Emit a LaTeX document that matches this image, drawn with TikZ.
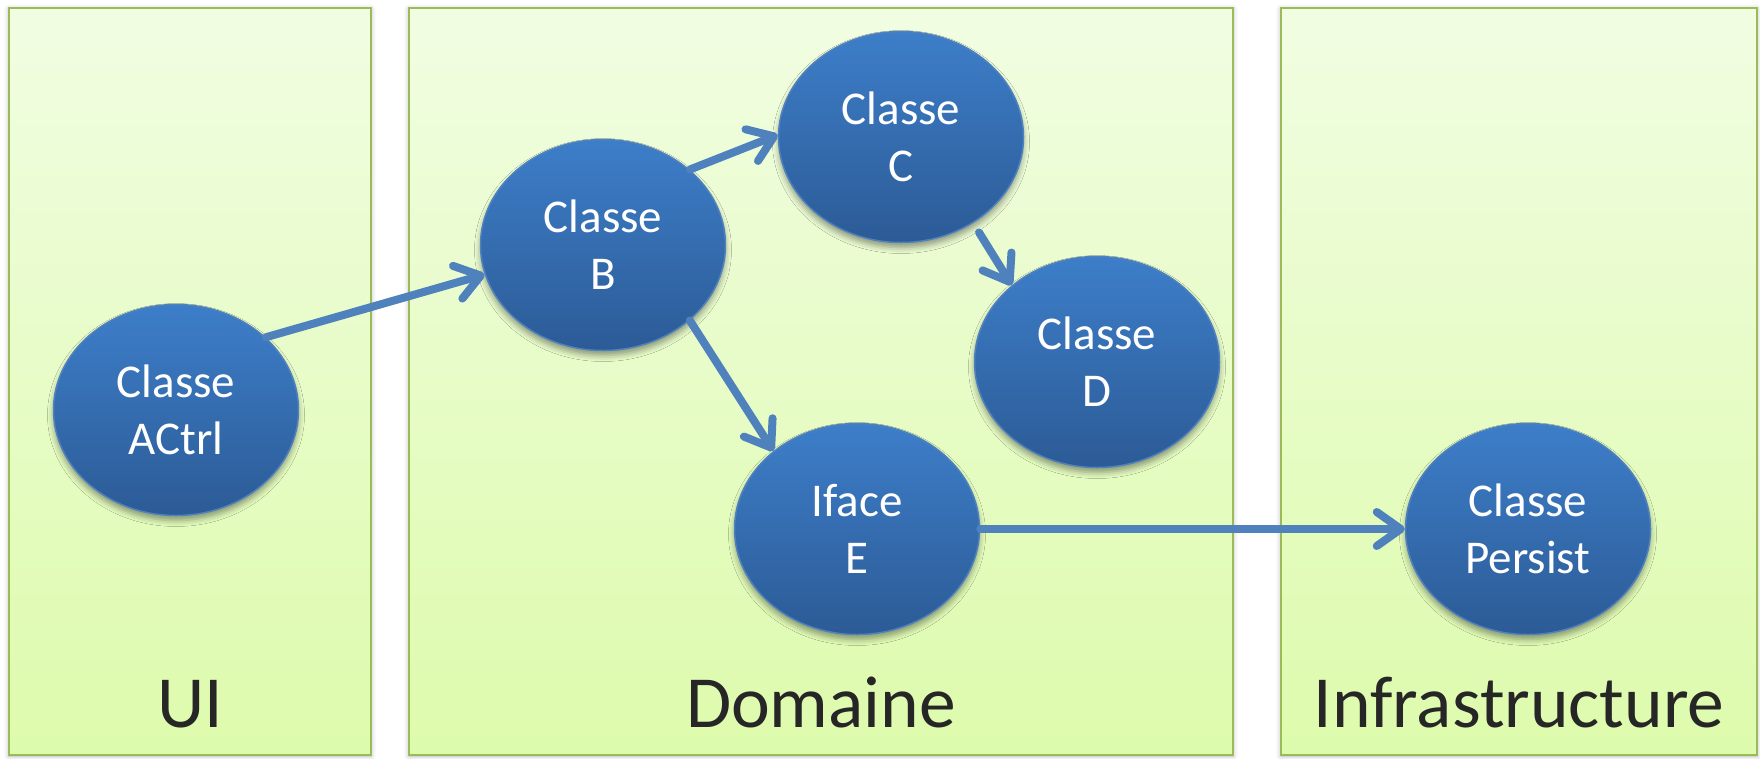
\documentclass[tikz,border=0pt]{standalone}
\usepackage{fontspec}
\setmainfont{Carlito}
\usetikzlibrary{shapes.geometric, arrows.meta, shadows.blur}

\definecolor{panelTop}{RGB}{241,253,226}
\definecolor{panelBot}{RGB}{221,251,172}
\definecolor{panelEdge}{RGB}{155,187,89}
\definecolor{ballTop}{RGB}{61,126,201}
\definecolor{ballBot}{RGB}{44,91,150}
\definecolor{ballEdge}{RGB}{79,129,189}
\definecolor{linkBlue}{RGB}{79,129,189}
\definecolor{labelInk}{RGB}{38,38,38}

\begin{document}
\begin{tikzpicture}[x=1pt, y=-1pt,
  panel/.style={draw=panelEdge, line width=2.5pt,
    top color=panelTop, bottom color=panelBot,
    blur shadow={shadow xshift=0pt, shadow yshift=-1pt,
      shadow blur radius=5pt, shadow opacity=30}},
  lanelabel/.style={anchor=base, text=labelInk,
    font=\fontsize{73.5}{88}\selectfont, inner sep=0pt},
  cls/.style={ellipse, minimum width=245pt, minimum height=211pt,
    inner sep=0pt, draw=ballEdge, line width=1.5pt,
    top color=ballTop, bottom color=ballBot, text=white,
    align=center, font=\fontsize{47}{57}\selectfont,
    blur shadow={shadow xshift=0pt, shadow yshift=-5pt,
      shadow blur radius=6pt, shadow opacity=40}},
  link/.style={draw=linkBlue, line width=8pt, line cap=round,
    -{Straight Barb[length=24pt, width=34pt, round]},
    preaction={draw=black, opacity=0.12,
      transform canvas={yshift=-3pt}}}
]
\useasboundingbox (0,0) rectangle (1760,758);

% layer panels
\path[panel] (9,8) rectangle (371,755);
\path[panel] (409,8) rectangle (1233,755);
\path[panel] (1281,8) rectangle (1757,755);

\node[lanelabel] (uiLabel) at (190,727) {UI};
\node[lanelabel] (domLabel) at (821,727) {Domaine};
\node[lanelabel] (infraLabel) at (1519,727) {Infrastructure};

% classes
\node[cls] (actrl) at (176,410) {Classe\\ACtrl};
\node[cls] (clsB) at (603,245) {Classe\\B};
\node[cls] (clsC) at (901,137) {Classe\\C};
\node[cls] (clsD) at (1097,362) {Classe\\D};
\node[cls] (ifaceE) at (857,529) {Iface\\E};
\node[cls] (persist) at (1528,529) {Classe\\Persist};

% dependencies
\draw[link] (actrl.39) -- (clsB.194);
\draw[link] (clsB.41) -- (clsC.179);
\draw[link, shorten <=11pt] (clsC.-50) -- (clsD.138);
\draw[link] (clsB.-41.5) -- (ifaceE.137);
\draw[link] (ifaceE.east) -- (persist.west);
\end{tikzpicture}
\end{document}
